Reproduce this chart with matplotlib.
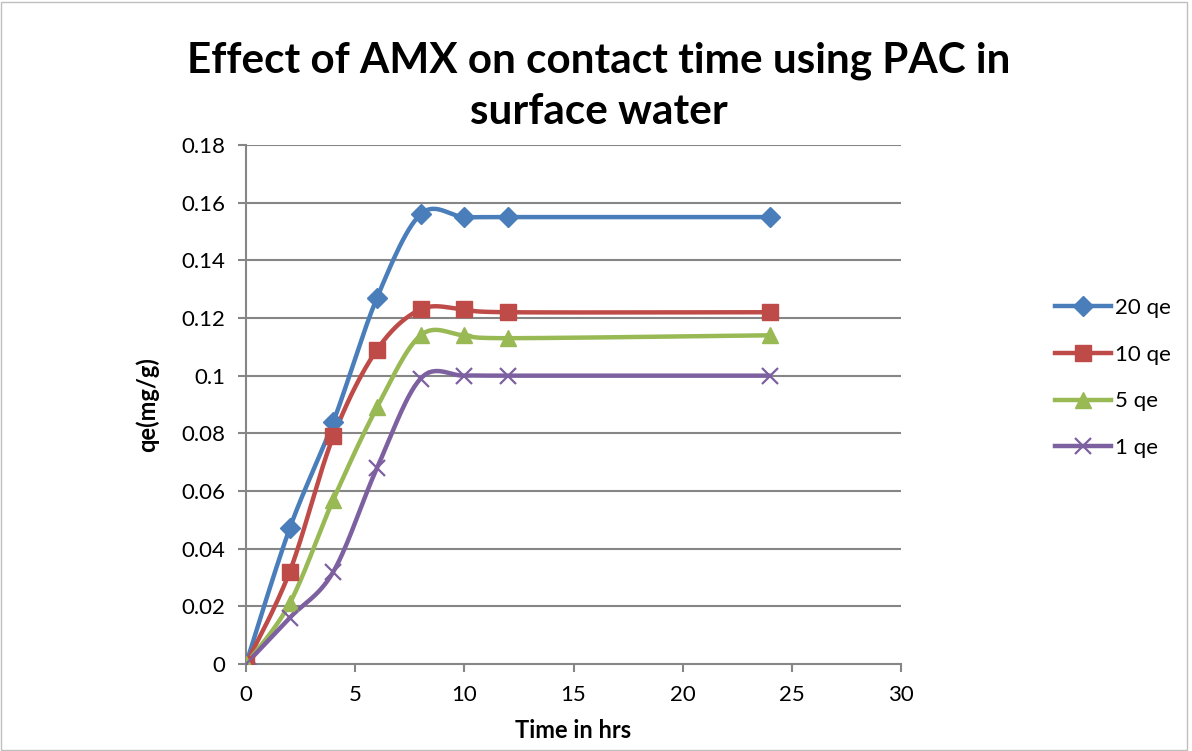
import numpy as np
import matplotlib
matplotlib.use("Agg")
import matplotlib.pyplot as plt
from matplotlib.lines import Line2D
from matplotlib.patches import Rectangle

time_hrs = [0, 2, 4, 6, 8, 10, 12, 24]
qe_20 = [0, 0.047, 0.084, 0.127, 0.156, 0.155, 0.155, 0.155]
qe_10 = [0, 0.032, 0.079, 0.109, 0.123, 0.123, 0.122, 0.122]
qe_5 = [0, 0.021, 0.057, 0.089, 0.114, 0.114, 0.113, 0.114]
qe_1 = [0, 0.016, 0.032, 0.068, 0.099, 0.100, 0.100, 0.100]
series_labels = ["20 qe", "10 qe", "5 qe", "1 qe"]

colors = ["#4A7EBB", "#BE4B48", "#98B954", "#7D60A0"]
markers = ["D", "s", "^", "x"]
msizes = [10, 11, 11, 12]

plt.rcParams['font.family'] = ['Lato', 'DejaVu Sans']


def smooth(x, y, n=30):
    x = np.asarray(x, float)
    y = np.asarray(y, float)
    P = np.column_stack([x, y])
    out = [P[0]]
    m = len(P)
    for i in range(m - 1):
        p0 = P[i - 1] if i > 0 else P[i]
        p1 = P[i]
        p2 = P[i + 1]
        p3 = P[i + 2] if i + 2 < m else P[i + 1]
        c1 = p1 + (p2 - p0) / 6.0
        c2 = p2 - (p3 - p1) / 6.0
        t = np.linspace(0, 1, n)[1:, None]
        b = ((1 - t) ** 3) * p1 + 3 * ((1 - t) ** 2) * t * c1 + 3 * (1 - t) * t ** 2 * c2 + t ** 3 * p2
        out.extend(b)
    out = np.array(out)
    return out[:, 0], out[:, 1]


fig = plt.figure(figsize=(11.92, 7.51), dpi=100)
ax = fig.add_axes([246 / 1192, 1 - 664 / 751, (901 - 246) / 1192, (664 - 145) / 751])

grid_c = "#868686"
for v in np.arange(0.02, 0.181, 0.02):
    ax.axhline(v, color=grid_c, lw=1.5, zorder=0)

data = [qe_20, qe_10, qe_5, qe_1]
handles = []
for ys, c, mk, ms, lab in zip(data, colors, markers, msizes, series_labels):
    sx, sy = smooth(time_hrs, ys)
    ax.plot(sx, sy, color=c, lw=3.2, solid_capstyle='round', zorder=3)
    if mk == "x":
        ax.plot(time_hrs, ys, ls='none', marker=mk, ms=ms, mew=1.6, color=c, zorder=4)
    else:
        ax.plot(time_hrs, ys, ls='none', marker=mk, ms=ms, mfc=c, mec=c, zorder=4)
    handles.append(Line2D([0], [0], color=c, lw=3.2, marker=mk, ms=ms,
                          mew=1.6 if mk == "x" else 1, mfc=c, mec=c, label=lab))

ax.set_xlim(0, 30)
ax.set_ylim(0, 0.18)
ax.set_xticks([0, 5, 10, 15, 20, 25, 30])
ax.set_yticks(np.arange(0, 0.181, 0.02))
ax.set_yticklabels(["0", "0.02", "0.04", "0.06", "0.08", "0.1", "0.12", "0.14", "0.16", "0.18"])
for s in ["top", "right"]:
    ax.spines[s].set_visible(False)
for s in ["left", "bottom"]:
    ax.spines[s].set_color(grid_c)
    ax.spines[s].set_linewidth(1.5)
ax.tick_params(axis='both', colors=grid_c, labelcolor='black', labelsize=16, width=1.5, length=6)
ax.tick_params(axis='y', pad=9)
ax.tick_params(axis='x', pad=9)

ax.set_xlabel("Time in hrs", fontsize=17, fontweight='bold', labelpad=10)
ax.set_ylabel("qe(mg/g)", fontsize=17, fontweight='bold', labelpad=16)

fig.text(0.502, 1 - 86 / 751, "Effect of AMX on contact time using PAC in\nsurface water",
         ha='center', va='center', fontsize=30.4, fontweight='bold', linespacing=1.42)

leg = fig.legend(handles=handles, loc='upper left', bbox_to_anchor=(1055 / 1192, 1 - 298 / 751),
                 frameon=False, fontsize=16, handlelength=2.5, labelspacing=1.2, handletextpad=0.2,
                 borderaxespad=0, borderpad=0)

fig.patches.append(Rectangle((0.001, 0.001), 0.995, 0.997, transform=fig.transFigure,
                             fill=False, edgecolor="#BFBFBF", lw=1))

fig.savefig("out.png", dpi=100)
